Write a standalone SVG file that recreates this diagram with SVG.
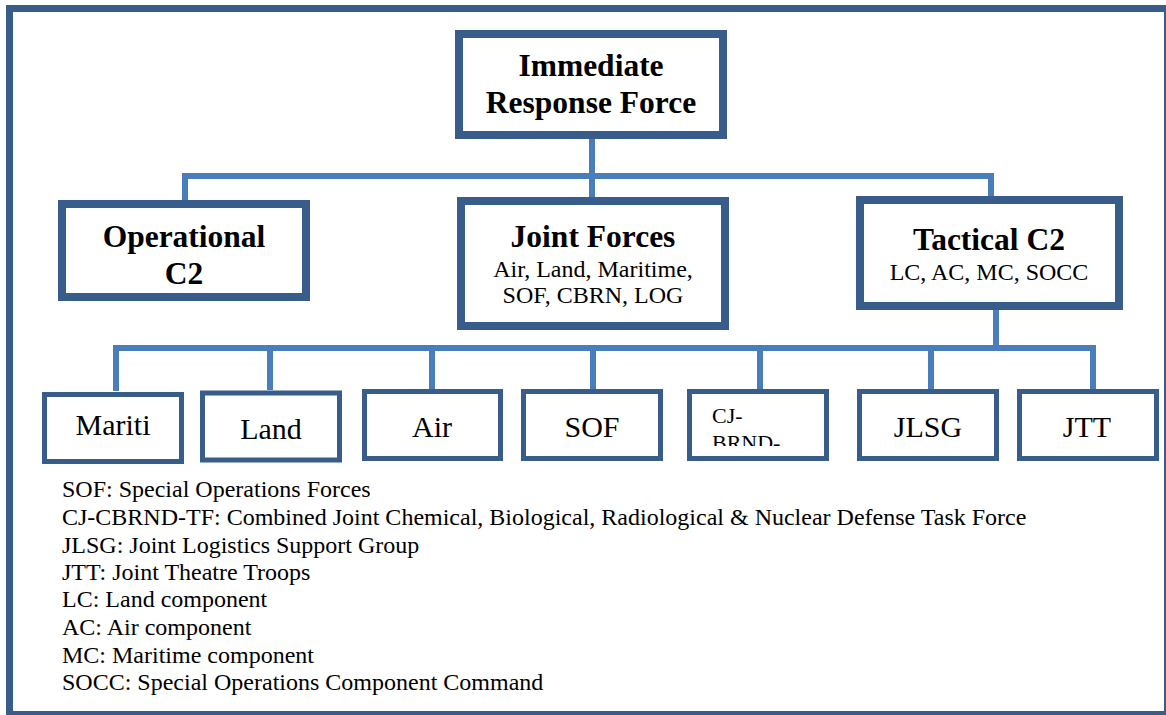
<svg xmlns="http://www.w3.org/2000/svg" width="1166" height="715" viewBox="0 0 1166 715">
<style>
.frame{fill:none;stroke:#385D8A;stroke-width:7}
.b1{fill:#fff;stroke:#385D8A;stroke-width:8}
.b2{fill:#fff;stroke:#385D8A;stroke-width:5}
.con{fill:none;stroke:#4A7EBB;stroke-width:6;stroke-linejoin:miter;stroke-linecap:butt}
.t{font-family:"Liberation Serif","Times New Roman",serif;fill:#000}
.tb{font-weight:bold;font-size:31.5px;text-anchor:middle}
.ts{font-size:24px;text-anchor:middle}
.tn{font-size:30px;text-anchor:middle}
.lg{font-size:24px}
</style>
<defs>
<clipPath id="cjclip"><rect x="692" y="394" width="132" height="52"/></clipPath>
</defs>
<rect x="0" y="0" width="1166" height="715" fill="#fff"/>
<rect class="frame" x="9.5" y="8.5" width="1158" height="706"/>
<g id="connectors">
<path class="con" d="M592 139 V197"/>
<path class="con" d="M185 200 V176 H991 V196"/>
<path class="con" d="M996 310 V348"/>
<path class="con" d="M116 391 V348 H1093 V389"/>
<path class="con" d="M270 348 V390"/>
<path class="con" d="M432 348 V389"/>
<path class="con" d="M593 348 V389"/>
<path class="con" d="M760 348 V389"/>
<path class="con" d="M931 348 V389"/>
</g>
<g id="irf">
<rect class="b1" x="459" y="34" width="264" height="101"/>
<text class="t tb" x="591" y="76">Immediate</text>
<text class="t tb" x="591" y="113">Response Force</text>
</g>
<g id="operational">
<rect class="b1" x="62" y="204" width="244" height="93"/>
<text class="t tb" x="184" y="247">Operational</text>
<text class="t tb" x="184" y="284">C2</text>
</g>
<g id="joint">
<rect class="b1" x="461" y="201" width="264" height="125"/>
<text class="t tb" x="593" y="247">Joint Forces</text>
<text class="t ts" x="593" y="277">Air, Land, Maritime,</text>
<text class="t ts" x="593" y="303">SOF, CBRN, LOG</text>
</g>
<g id="tactical">
<rect class="b1" x="860" y="200" width="259" height="106"/>
<text class="t tb" x="989" y="250">Tactical C2</text>
<text class="t ts" x="989" y="280">LC, AC, MC, SOCC</text>
</g>
<g id="mariti">
<rect class="b2" x="44.5" y="394.5" width="137" height="67"/>
<text class="t tn" x="113" y="435">Mariti</text>
</g>
<g id="land">
<rect class="b2" x="202.5" y="393" width="137" height="67"/>
<text class="t tn" x="271" y="439">Land</text>
</g>
<g id="air">
<rect class="b2" x="364.5" y="391.5" width="136" height="67"/>
<text class="t tn" x="432" y="437">Air</text>
</g>
<g id="sof">
<rect class="b2" x="523.5" y="391.5" width="137" height="67"/>
<text class="t tn" x="592" y="437">SOF</text>
</g>
<g id="cj">
<rect class="b2" x="689.5" y="391.5" width="137" height="67"/>
<g clip-path="url(#cjclip)">
<text class="t" font-size="22" x="712" y="423">CJ-</text>
<text class="t" font-size="22" x="712" y="450">BRND-</text>
</g>
</g>
<g id="jlsg">
<rect class="b2" x="859.5" y="391.5" width="137" height="67"/>
<text class="t tn" x="928" y="437">JLSG</text>
</g>
<g id="jtt">
<rect class="b2" x="1019.5" y="391.5" width="137" height="67"/>
<text class="t tn" x="1087" y="437">JTT</text>
</g>
<g id="legend">
<text class="t lg" x="62" y="497">SOF: Special Operations Forces</text>
<text class="t lg" x="62" y="525">CJ-CBRND-TF: Combined Joint Chemical, Biological, Radiological &amp; Nuclear Defense Task Force</text>
<text class="t lg" x="62" y="553">JLSG: Joint Logistics Support Group</text>
<text class="t lg" x="62" y="580">JTT: Joint Theatre Troops</text>
<text class="t lg" x="62" y="607">LC: Land component</text>
<text class="t lg" x="62" y="635">AC: Air component</text>
<text class="t lg" x="62" y="663">MC: Maritime component</text>
<text class="t lg" x="62" y="690">SOCC: Special Operations Component Command</text>
</g>
</svg>
